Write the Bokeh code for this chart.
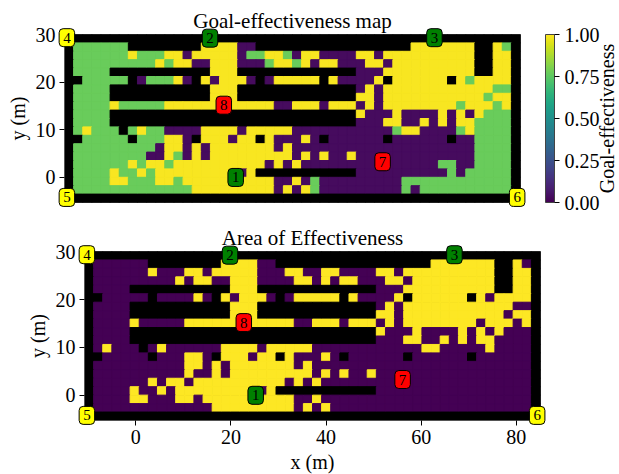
import numpy as np
from bokeh.embed import file_html
from bokeh.resources import INLINE
from bokeh.layouts import column, row
from bokeh.plotting import figure
from bokeh.models import (ColumnDataSource, LinearColorMapper, ColorBar, FixedTicker,
                          PrintfTickFormatter, Label, Range1d)
from bokeh.palettes import Viridis256

# cell classes: K wall, P ineffective, G partly effective, Y effective (runs, top row first)
goal_rows = [
    "K50",
    "K1 G6 K8 Y4 P2 K17 Y7 K2 Y1 G1 K1",
    "K1 G6 Y1 G3 Y2 P1 Y5 P1 G2 Y2 G1 P1 Y2 P4 Y2 P1 Y10 K2 Y2 K1",
    "K1 G9 Y1 G1 Y2 P2 Y3 P3 G1 Y2 G1 Y1 P1 Y2 P3 Y2 P1 Y9 K2 Y2 K1",
    "K1 G4 K11 Y3 K13 P3 Y10 K2 Y2 K1",
    "K2 G5 K1 P1 G3 Y1 P1 K1 Y1 P1 Y3 P1 K1 P1 Y5 K1 Y1 P4 Y1 K1 Y6 K1 Y1 G1 Y4 K1",
    "K1 G4 K11 Y3 K13 P1 Y1 P1 Y12 G2 K1",
    "K1 G4 K11 Y3 K13 Y2 P1 Y11 G1 Y2 K1",
    "K1 G4 Y1 G5 Y12 P2 Y3 P1 Y3 P1 Y1 P1 Y8 G1 Y3 G1 Y1 K1",
    "K1 G4 K27 Y1 P3 Y1 P4 Y1 P1 Y1 P1 Y1 G3 K1",
    "K1 G4 K27 P3 Y2 P2 Y1 P1 Y1 P1 Y2 G4 K1",
    "K1 G1 Y1 G3 K1 G1 Y1 G2 P4 Y4 P1 Y5 P11 G1 Y2 P4 G1 Y1 G4 K1",
    "K2 G5 K1 G3 Y2 P1 K1 Y3 P1 Y2 K1 Y1 P3 Y1 P1 K1 P6 K1 P6 K1 P2 G4 K1",
    "K1 G9 P1 Y2 P1 Y1 P1 Y7 P1 Y1 P20 G4 K1",
    "K1 G8 P2 Y1 G1 P1 Y1 P1 Y9 P1 Y1 P1 Y1 P2 Y1 P13 G4 K1",
    "K1 G6 Y1 G1 Y2 G1 Y10 P1 Y1 P1 Y1 P15 G2 P2 G4 K1",
    "K1 G4 Y1 G2 Y1 G1 Y9 P1 Y1 K11 P10 G1 P1 G5 K1",
    "K1 G4 Y2 G3 Y2 G1 Y10 P2 Y1 P1 G1 P9 G12 K1",
    "K1 G13 Y9 P1 Y1 P1 Y1 G1 P9 G1 P1 G10 K1",
    "K50",
]
area_rows = [
    "K50",
    "K1 P6 K8 Y4 P2 K17 Y7 K2 Y1 P1 K1",
    "K1 P6 Y1 P3 Y2 P1 Y5 P3 Y2 P2 Y2 P4 Y2 P1 Y10 K2 Y2 K1",
    "K1 P9 Y1 P1 Y2 P2 Y3 P4 Y2 P1 Y1 P1 Y2 P3 Y2 P1 Y9 K2 Y2 K1",
    "K1 P4 K11 Y3 K13 P3 Y10 K2 Y2 K1",
    "K2 P5 K1 P4 Y1 P1 K1 Y1 P1 Y3 P1 K1 P1 Y5 K1 Y1 P4 Y1 K1 Y6 K1 Y1 P1 Y4 K1",
    "K1 P4 K11 Y3 K13 P1 Y1 P1 Y12 P2 K1",
    "K1 P4 K11 Y3 K13 Y2 P1 Y11 P1 Y2 K1",
    "K1 P4 Y1 P5 Y12 P2 Y3 P1 Y3 P1 Y1 P1 Y8 P1 Y3 P1 Y1 K1",
    "K1 P4 K27 Y1 P3 Y1 P4 Y1 P1 Y1 P1 Y1 P3 K1",
    "K1 P4 K27 P3 Y2 P2 Y1 P1 Y1 P1 Y2 P4 K1",
    "K1 P1 Y1 P3 K1 P1 Y1 P2 P4 Y4 P1 Y5 P12 Y2 P5 Y1 P4 K1",
    "K2 P5 K1 P3 Y2 P1 K1 Y3 P1 Y2 K1 Y1 P3 Y1 P1 K1 P6 K1 P6 K1 P6 K1",
    "K1 P9 P1 Y2 P1 Y1 P1 Y7 P1 Y1 P24 K1",
    "K1 P8 P2 Y1 P2 Y1 P1 Y9 P1 Y1 P1 Y1 P2 Y1 P17 K1",
    "K1 P6 Y1 P1 Y2 P1 Y10 P1 Y1 P1 Y1 P23 K1",
    "K1 P4 Y1 P2 Y1 P1 Y9 P1 Y1 K11 P17 K1",
    "K1 P4 Y2 P3 Y2 P1 Y10 P2 Y1 P23 K1",
    "K1 P13 Y9 P1 Y1 P1 Y1 P22 K1",
    "K50",
]
goal_levels = {"K": float("nan"), "P": 0.03, "G": 0.77, "Y": 0.99}
area_levels = {"K": float("nan"), "P": 0.0, "G": 0.0, "Y": 1.0}

x_ticks = [0, 20, 40, 60, 80]
y_ticks = [0, 10, 20, 30]
cbar_ticks = [0.0, 0.25, 0.5, 0.75, 1.0]
markers_x = [25.2, 19.8, 67.0, -10.3, -10.3, 84.4, 56.1, 22.7]
markers_y = [0.0, 29.3, 29.4, 29.4, -4.2, -4.2, 3.3, 15.2]
markers_text = ["1", "2", "3", "4", "5", "6", "7", "8"]
markers_fill = ["green", "green", "green", "yellow", "yellow", "yellow", "red", "red"]

XLIM = (-10.8, 85.1)
YLIM = (-5.27, 30.07)
SERIF = "Liberation Serif"
FS = "20px"
FRAME_W = 456


def decode(rows, levels):
    out = []
    for row_ in rows:
        cells = []
        for tok in row_.split():
            cells += [levels[tok[0]]] * int(tok[1:])
        assert len(cells) == 50, row_
        out.append(cells)
    return np.array(out)


def panel(rows, levels, title, border_left, border_top, border_right, border_bottom, frame_h):
    z = decode(rows, levels)
    nr, nc = z.shape
    dx = (XLIM[1] - XLIM[0]) / nc
    dy = (YLIM[1] - YLIM[0]) / nr
    cols, rws = np.meshgrid(np.arange(nc), np.arange(nr))
    src = ColumnDataSource(dict(
        x=XLIM[0] + (cols.ravel() + 0.5) * dx,
        y=YLIM[1] - (rws.ravel() + 0.5) * dy,
        v=z.ravel(),
    ))
    mapper = LinearColorMapper(palette=Viridis256, low=0, high=1, nan_color="black")
    p = figure(frame_width=FRAME_W, frame_height=frame_h, output_backend="svg", toolbar_location=None,
               x_range=Range1d(*XLIM), y_range=Range1d(*YLIM), title=title,
               min_border_left=border_left, min_border_top=border_top,
               min_border_right=border_right, min_border_bottom=border_bottom)
    cm = {"field": "v", "transform": mapper}
    p.rect("x", "y", width=dx, height=dy, source=src, fill_color=cm, line_color=cm, line_width=1)
    p.grid.visible = False
    p.outline_line_color = "#555555"
    p.background_fill_color = "black"
    p.title.align = "center"
    p.title.text_font = SERIF
    p.title.text_font_size = "21px"
    p.title.text_font_style = "normal"
    p.title.text_color = "black"
    p.title.standoff = 4
    for ax, ticks in ((p.xaxis, x_ticks), (p.yaxis, y_ticks)):
        ax.ticker = FixedTicker(ticks=ticks)
        ax.minor_tick_line_color = None
        ax.major_tick_out = 5
        ax.major_tick_in = 0
        ax.major_tick_line_color = "black"
        ax.axis_line_color = "#555555"
        ax.major_label_text_font = SERIF
        ax.major_label_text_font_size = FS
        ax.major_label_text_color = "black"
        ax.axis_label_text_font = SERIF
        ax.axis_label_text_font_size = FS
        ax.axis_label_text_font_style = "normal"
        ax.axis_label_text_color = "black"
    p.yaxis.axis_label = "y (m)"
    p.yaxis.axis_label_standoff = 4
    p.yaxis.major_label_standoff = 4
    return p, mapper


TOP_LEFT, TOP_TOP, TOP_H = 64, 34, 168
BOT_LEFT, BOT_TOP, BOT_H = 84, 39, 169
TOP_TOTAL = TOP_TOP + TOP_H + 10

p1, m1 = panel(goal_rows, goal_levels, "Goal-effectiveness map", TOP_LEFT, TOP_TOP, 99, 10, TOP_H)
p1.xaxis.visible = False
cb = ColorBar(color_mapper=m1, width=9, height=TOP_H, padding=0, margin=0, location=(25, 0),
              ticker=FixedTicker(ticks=cbar_ticks), formatter=PrintfTickFormatter(format="%.2f"),
              major_tick_out=5, major_tick_in=0, major_tick_line_color="black",
              bar_line_color="#444444", border_line_color=None,
              major_label_text_font=SERIF, major_label_text_font_size=FS,
              major_label_text_color="black", label_standoff=5)
p1.add_layout(cb, "right")

p2, _ = panel(area_rows, area_levels, "Area of Effectiveness", BOT_LEFT, BOT_TOP, 79, 54, BOT_H)
p2.xaxis.axis_label = "x (m)"
p2.xaxis.major_label_standoff = 4
p2.xaxis.axis_label_standoff = 4

# transparent page-sized overlay: the boxed waypoints overhang the axes frames
over = figure(width=619, height=474, output_backend="svg", toolbar_location=None,
              x_range=Range1d(0, 619), y_range=Range1d(474, 0), x_axis_type=None, y_axis_type=None,
              min_border_left=0, min_border_right=0, min_border_top=0, min_border_bottom=0,
              outline_line_color=None, background_fill_color=None, border_fill_color=None,
              styles={"position": "absolute", "left": "0px", "top": "0px"})
over.grid.visible = False


def page_xy(xm, ym, left, top, h):
    return (left + (xm - XLIM[0]) / (XLIM[1] - XLIM[0]) * FRAME_W,
            top + (YLIM[1] - ym) / (YLIM[1] - YLIM[0]) * h)


for left, top, h in ((TOP_LEFT, TOP_TOP, TOP_H), (BOT_LEFT, TOP_TOTAL + BOT_TOP, BOT_H)):
    for xm, ym, tm, fm in zip(markers_x, markers_y, markers_text, markers_fill):
        sx, sy = page_xy(xm, ym, left, top, h)
        over.add_layout(Label(x=sx, y=sy, text=tm, text_align="center", text_baseline="middle",
                              text_font=SERIF, text_font_size="15px", text_color="black",
                              background_fill_color=fm, border_line_color="black", border_line_width=1,
                              border_radius=4, padding=(4, 4)))
over.add_layout(Label(x=606, y=118, text="Goal-effectiveness", angle=90, angle_units="deg",
                      text_align="center", text_baseline="middle", text_font=SERIF,
                      text_font_size="20px", text_color="black"))

open("out.html", "w").write(file_html(column(row(p1), row(p2), over, spacing=0), INLINE))
